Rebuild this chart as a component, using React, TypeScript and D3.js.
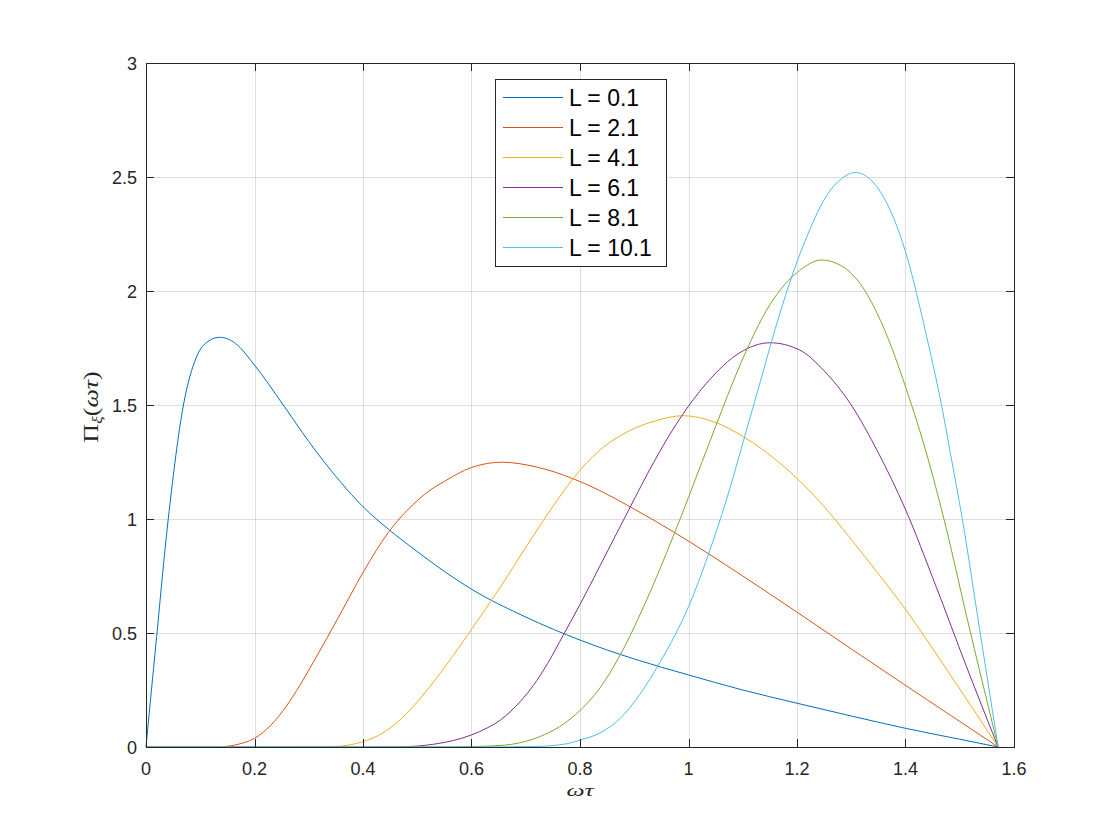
import React from 'react';
import * as d3 from 'd3';

// axis ticks
const xTicks = [0, 0.2, 0.4, 0.6, 0.8, 1, 1.2, 1.4, 1.6];
const yTicks = [0, 0.5, 1, 1.5, 2, 2.5, 3];

const labels = ['L = 0.1', 'L = 2.1', 'L = 4.1', 'L = 6.1', 'L = 8.1', 'L = 10.1'];
const colors = ['#0072BD', '#D95319', '#EDB120', '#7E2F8E', '#77AC30', '#4DBEEE'];

// curves, [omega*tau, Pi]
const L01: [number, number][] = [
  [0, 0], [0.008, 0.2], [0.0166, 0.41], [0.041, 1.0], [0.069, 1.5], [0.093, 1.71], [0.115, 1.78],
  [0.136, 1.797], [0.165, 1.77], [0.2, 1.675], [0.253, 1.5], [0.3, 1.34], [0.358, 1.164], [0.4, 1.054],
  [0.447, 0.955], [0.5, 0.857], [0.55, 0.77], [0.6, 0.692], [0.7, 0.57], [0.8, 0.469], [0.9, 0.386],
  [1.0, 0.316], [1.1, 0.25], [1.2, 0.192], [1.3, 0.136], [1.4, 0.082], [1.5, 0.034], [1.5708, 0],
];
const L21: [number, number][] = [
  [0, 0], [0.1, 0], [0.142, 0.002], [0.17, 0.012], [0.2, 0.038], [0.23, 0.095], [0.259, 0.18],
  [0.284, 0.272], [0.308, 0.37], [0.333, 0.475], [0.358, 0.583], [0.4, 0.765], [0.447, 0.942],
  [0.493, 1.065], [0.52, 1.12], [0.55, 1.165], [0.6, 1.226], [0.656, 1.249], [0.72, 1.228],
  [0.788, 1.176], [0.837, 1.124], [0.892, 1.054], [0.972, 0.944], [1.036, 0.849], [1.1, 0.75],
  [1.199, 0.593], [1.3, 0.43], [1.399, 0.272], [1.5, 0.112], [1.5708, 0],
];
const L41: [number, number][] = [
  [0, 0], [0.25, 0], [0.345, 0.002], [0.375, 0.009], [0.4, 0.023], [0.435, 0.06], [0.468, 0.118],
  [0.5, 0.198], [0.53, 0.285], [0.565, 0.397], [0.6, 0.516], [0.653, 0.701], [0.714, 0.927],
  [0.75, 1.055], [0.785, 1.17], [0.837, 1.303], [0.892, 1.388], [0.94, 1.431], [0.99, 1.453],
  [1.046, 1.427], [1.101, 1.361], [1.169, 1.244], [1.242, 1.076], [1.3, 0.91], [1.35, 0.76],
  [1.399, 0.607], [1.476, 0.34], [1.5708, 0],
];
const L61: [number, number][] = [
  [0, 0], [0.4, 0], [0.468, 0.001], [0.53, 0.012], [0.6, 0.053], [0.63, 0.085], [0.653, 0.118],
  [0.69, 0.2], [0.714, 0.27], [0.74, 0.365], [0.769, 0.49], [0.8, 0.625], [0.837, 0.795],
  [0.892, 1.05], [0.935, 1.245], [0.984, 1.44], [1.033, 1.595], [1.095, 1.73], [1.15, 1.773],
  [1.205, 1.741], [1.25, 1.65], [1.298, 1.507], [1.35, 1.29], [1.399, 1.047], [1.457, 0.7],
  [1.512, 0.355], [1.5708, 0],
];
const L81: [number, number][] = [
  [0, 0], [0.5, 0], [0.6, 0.002], [0.66, 0.008], [0.714, 0.035], [0.769, 0.1], [0.8, 0.16],
  [0.837, 0.26], [0.871, 0.39], [0.92, 0.63], [0.972, 0.925], [1.0, 1.095], [1.049, 1.4],
  [1.095, 1.675], [1.15, 1.94], [1.205, 2.09], [1.245, 2.136], [1.28, 2.113], [1.316, 2.034],
  [1.359, 1.843], [1.402, 1.566], [1.442, 1.26], [1.475, 0.96], [1.512, 0.58], [1.5708, 0],
];
const L101: [number, number][] = [
  [0, 0], [0.6, 0], [0.714, 0.002], [0.77, 0.012], [0.8, 0.03], [0.837, 0.062], [0.874, 0.125],
  [0.91, 0.23], [0.947, 0.37], [0.975, 0.49], [1.0, 0.615], [1.036, 0.84], [1.07, 1.085],
  [1.101, 1.34], [1.132, 1.6], [1.16, 1.835], [1.185, 2.025], [1.205, 2.16], [1.225, 2.277],
  [1.242, 2.365], [1.26, 2.437], [1.275, 2.478], [1.29, 2.506], [1.307, 2.52], [1.335, 2.49],
  [1.359, 2.414], [1.399, 2.18], [1.439, 1.8], [1.467, 1.492], [1.485, 1.259], [1.504, 1.01],
  [1.537, 0.51], [1.5708, 0],
];
const series = [L01, L21, L41, L61, L81, L101];

const W = 1120, H = 840;
const left = 146, right = 1014, top = 63, bottom = 747;
const axisColor = '#262626';
const sans = '"Liberation Sans", Arial, Helvetica, sans-serif';
const serif = '"Liberation Serif", "Times New Roman", serif';

export default function App() {
  const x = d3.scaleLinear().domain([0, 1.6]).range([left, right]);
  const y = d3.scaleLinear().domain([0, 3]).range([bottom, top]);
  const line = d3.line<[number, number]>().x(d => x(d[0])).y(d => y(d[1])).curve(d3.curveMonotoneX);
  const tickLen = 8;
  const fmt = (v: number) => String(v);

  const lgX = 495, lgY = 79, lgW = 171, lgH = 187, rowH = 30;

  return (
    <svg width={W} height={H} style={{ position: 'absolute', left: 0, top: 0, background: '#fff' }}>
      <rect x={0} y={0} width={W} height={H} fill="#fff" />
      {/* grid */}
      <g stroke={axisColor} strokeOpacity={0.15} strokeWidth={1}>
        {xTicks.map(t => <line key={'gx' + t} x1={Math.round(x(t)) + 0.5} x2={Math.round(x(t)) + 0.5} y1={top} y2={bottom} />)}
        {yTicks.map(t => <line key={'gy' + t} y1={Math.round(y(t)) + 0.5} y2={Math.round(y(t)) + 0.5} x1={left} x2={right} />)}
      </g>
      {/* curves */}
      <g fill="none" strokeWidth={1}>
        {series.map((s, i) => <path key={i} d={line(s) || ''} stroke={colors[i]} />)}
      </g>
      {/* box and ticks */}
      <g stroke={axisColor} strokeWidth={1} fill="none">
        <rect x={left + 0.5} y={top + 0.5} width={right - left} height={bottom - top} />
        {xTicks.map(t => {
          const px = Math.round(x(t)) + 0.5;
          return <g key={'tx' + t}>
            <line x1={px} x2={px} y1={bottom} y2={bottom - tickLen} />
            <line x1={px} x2={px} y1={top} y2={top + tickLen} />
          </g>;
        })}
        {yTicks.map(t => {
          const py = Math.round(y(t)) + 0.5;
          return <g key={'ty' + t}>
            <line x1={left} x2={left + tickLen} y1={py} y2={py} />
            <line x1={right} x2={right - tickLen} y1={py} y2={py} />
          </g>;
        })}
      </g>
      {/* tick labels */}
      <g fontFamily={sans} fontSize={18} fill={axisColor}>
        {xTicks.map(t => <text key={'lx' + t} x={x(t)} y={bottom + 28} textAnchor="middle">{fmt(t)}</text>)}
        {yTicks.map(t => <text key={'ly' + t} x={left - 9} y={y(t) + 6.5} textAnchor="end">{fmt(t)}</text>)}
      </g>
      {/* axis labels */}
      <text transform={`translate(${(left + right) / 2}, 796) scale(1.5, 1)`} textAnchor="middle" fontFamily={serif} fontSize={17} fontStyle="italic" fill={axisColor}>ωτ</text>
      <text transform={`translate(98, ${(top + bottom) / 2 + 2}) rotate(-90) scale(1.3, 1)`} textAnchor="middle" fontFamily={serif} fontSize={20} fill={axisColor}>
        <tspan>Π</tspan>
        <tspan fontStyle="italic" fontSize={14} dy={4}>ξ</tspan>
        <tspan dy={-4}>(</tspan>
        <tspan fontStyle="italic">ωτ</tspan>
        <tspan>)</tspan>
      </text>
      {/* legend */}
      <g>
        <rect x={lgX + 0.5} y={lgY + 0.5} width={lgW} height={lgH} fill="#fff" stroke={axisColor} strokeWidth={1} />
        {labels.map((lab, i) => {
          const cy = lgY + 18.5 + i * rowH;
          return <g key={lab}>
            <line x1={503} x2={563} y1={cy} y2={cy} stroke={colors[i]} strokeWidth={1} />
            <text x={569} y={cy + 8} fontFamily={sans} fontSize={23} fill="#000">{lab}</text>
          </g>;
        })}
      </g>
    </svg>
  );
}
